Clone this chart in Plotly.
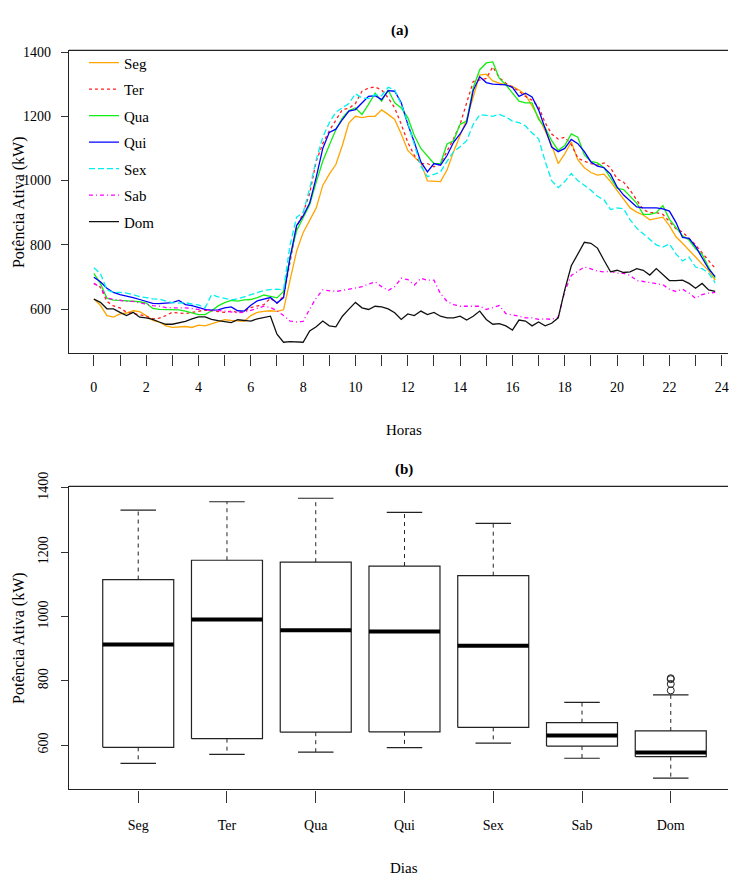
import plotly.graph_objects as go

# ---------------- data: panel (a) ----------------
hours = [i / 4 for i in range(96)]  # 15-minute grid, 0 .. 23.75 h

seg = [632, 612, 580, 575, 585, 588, 595, 592, 580, 565, 560, 548, 543, 545, 546, 543,
       550, 548, 555, 560, 567, 565, 563, 562, 580, 590, 593, 595, 593, 598, 690, 780,
       838, 878, 915, 985, 1020, 1050, 1110, 1180, 1200, 1196, 1200, 1200, 1220, 1206, 1190, 1145,
       1094, 1073, 1055, 999, 998, 997, 1033, 1090, 1140, 1190, 1260, 1328, 1331, 1310, 1303, 1298,
       1293, 1282, 1267, 1232, 1196, 1155, 1110, 1053, 1083, 1120, 1065, 1040, 1025, 1017, 1020, 997,
       970, 945, 915, 902, 893, 878, 882, 886, 860, 825, 805, 785, 762, 740, 720, 690]
ter = [680, 668, 624, 610, 604, 590, 587, 583, 578, 570, 572, 580, 590, 588, 586, 590,
       593, 597, 595, 592, 590, 594, 590, 592, 605, 610, 614, 634, 619, 640, 750, 854,
       900, 960, 1060, 1115, 1155, 1190, 1221, 1225, 1240, 1278, 1288, 1291, 1282, 1257, 1226, 1175,
       1119, 1078, 1053, 1053, 1043, 1053, 1090, 1130, 1175, 1240, 1308, 1313, 1318, 1354, 1320, 1303,
       1290, 1278, 1262, 1250, 1230, 1180, 1145, 1129, 1135, 1112, 1070, 1060, 1053, 1048, 1055, 1040,
       1005, 995, 970, 940, 910, 900, 900, 895, 874, 850, 840, 820, 800, 775, 750, 727]
qua = [711, 680, 634, 628, 627, 626, 624, 623, 619, 602, 599, 599, 600, 598, 594, 588,
       583, 583, 595, 610, 620, 627, 625, 629, 630, 636, 644, 640, 635, 655, 762, 844,
       884, 925, 995, 1060, 1110, 1158, 1195, 1218, 1226, 1206, 1237, 1272, 1247, 1282, 1242, 1226,
       1196, 1140, 1100, 1075, 1053, 1053, 1114, 1124, 1175, 1185, 1288, 1345, 1366, 1369, 1318, 1298,
       1272, 1247, 1242, 1242, 1191, 1165, 1124, 1094, 1109, 1145, 1135, 1080, 1060, 1055, 1040, 1010,
       976, 972, 950, 930, 895, 895, 900, 922, 880, 855, 828, 815, 788, 770, 730, 696]
qui = [699, 685, 665, 652, 645, 641, 636, 630, 625, 618, 617, 619, 620, 627, 614, 611,
       605, 599, 597, 598, 604, 607, 595, 594, 612, 626, 631, 636, 619, 636, 760, 860,
       890, 930, 1010, 1100, 1150, 1160, 1190, 1216, 1221, 1242, 1262, 1264, 1252, 1280, 1278, 1242,
       1175, 1119, 1058, 1027, 1053, 1048, 1078, 1119, 1145, 1180, 1280, 1323, 1305, 1300, 1300, 1298,
       1290, 1262, 1272, 1260, 1220, 1160, 1104, 1090, 1100, 1128, 1115, 1090, 1058, 1045, 1040, 1020,
       980, 955, 938, 918, 915, 915, 915, 912, 905, 870, 823, 820, 795, 760, 725, 701]
sex = [729, 711, 660, 652, 652, 650, 645, 639, 636, 632, 631, 625, 620, 619, 620, 616,
       613, 604, 645, 638, 634, 629, 632, 639, 645, 652, 658, 661, 662, 660, 800, 886,
       900, 975, 1065, 1135, 1180, 1213, 1226, 1240, 1270, 1257, 1255, 1267, 1264, 1290, 1282, 1237,
       1180, 1109, 1045, 1012, 1019, 1027, 1060, 1090, 1105, 1124, 1175, 1205, 1203, 1200, 1206, 1198,
       1185, 1180, 1170, 1148, 1130, 1060, 1000, 978, 997, 1022, 1000, 985, 970, 951, 940, 910,
       915, 912, 878, 852, 834, 815, 800, 793, 803, 772, 750, 762, 731, 726, 712, 682]
sab = [680, 668, 634, 630, 627, 624, 624, 620, 614, 611, 609, 605, 604, 605, 604, 602,
       599, 599, 595, 596, 594, 590, 589, 590, 596, 604, 609, 605, 595, 580, 563, 560,
       562, 600, 635, 660, 658, 655, 658, 662, 665, 670, 678, 685, 670, 658, 670, 696,
       692, 675, 696, 690, 690, 648, 624, 614, 609, 609, 607, 609, 599, 604, 611, 586,
       583, 578, 573, 573, 568, 570, 568, 575, 655, 705, 718, 731, 725, 718, 716, 718,
       712, 711, 705, 689, 686, 682, 678, 676, 662, 655, 662, 650, 634, 645, 650, 652]
dom = [631, 621, 601, 601, 590, 580, 590, 575, 573, 568, 560, 553, 553, 558, 562, 570,
       576, 576, 568, 564, 560, 558, 567, 566, 563, 570, 575, 578, 522, 497, 499, 497,
       497, 532, 545, 563, 548, 545, 578, 600, 621, 604, 599, 609, 607, 601, 589, 568,
       585, 580, 594, 583, 590, 578, 573, 573, 578, 566, 578, 594, 568, 553, 555, 548,
       535, 566, 563, 548, 560, 548, 556, 573, 660, 735, 770, 808, 805, 790, 752, 716,
       721, 714, 716, 726, 721, 706, 726, 706, 689, 689, 690, 680, 665, 680, 660, 655]

hour_ticks = [0, 1, 2, 3, 4, 5, 6, 7, 8, 9, 10, 11, 12, 13, 14, 15, 16, 17, 18, 19, 20, 21, 22, 23, 24]
hour_labels = ["0", "", "2", "", "4", "", "6", "", "8", "", "10", "", "12", "", "14", "", "16", "",
               "18", "", "20", "", "22", "", "24"]
power_ticks = [600, 800, 1000, 1200, 1400]

# ---------------- data: panel (b) ----------------
days = ["Seg", "Ter", "Qua", "Qui", "Sex", "Sab", "Dom"]
box_lower = [543, 571, 578, 592, 606, 559, 497]
box_q1 = [593, 620, 640, 641, 655, 597, 564]
box_median = [913, 991, 957, 953, 909, 630, 577]
box_q3 = [1115, 1175, 1169, 1157, 1127, 670, 644]
box_upper = [1331, 1357, 1368, 1324, 1290, 733, 756]
dom_outliers = [770, 790, 805, 808]

# ---------------- figure ----------------
FONT = "Liberation Serif"
H = 877
fig = go.Figure()

series = [
    ("Seg", seg, "#FFA500", "solid"),
    ("Ter", ter, "#FF2020", "3px,3px"),
    ("Qua", qua, "#14EE14", "solid"),
    ("Qui", qui, "#0000FF", "solid"),
    ("Sex", sex, "#00F0F0", "6px,3px"),
    ("Sab", sab, "#FF00FF", "4px,3px,1px,3px"),
    ("Dom", dom, "#111111", "solid"),
]
for name, vals, col, dash in series:
    fig.add_trace(go.Scatter(
        x=hours, y=vals, mode="lines", name=name, legendgroup=name,
        line=dict(color=col, width=1.3, dash=dash),
        xaxis="x", yaxis="y"))

# box plot (R style) built from the statistics
pos = list(range(1, len(days) + 1))
hw, sw = 0.4, 0.2
bx, by, mx, my, wx, wy, sx, sy = [], [], [], [], [], [], [], []
for p, lo, q1, md, q3, hi in zip(pos, box_lower, box_q1, box_median, box_q3, box_upper):
    bx += [p - hw, p + hw, p + hw, p - hw, p - hw, None]
    by += [q1, q1, q3, q3, q1, None]
    mx += [p - hw, p + hw, None]
    my += [md, md, None]
    wx += [p, p, None, p, p, None]
    wy += [q3, hi, None, q1, lo, None]
    sx += [p - sw, p + sw, None, p - sw, p + sw, None]
    sy += [hi, hi, None, lo, lo, None]

fig.add_trace(go.Scatter(x=wx, y=wy, mode="lines", showlegend=False,
                         line=dict(color="#222", width=1, dash="4px,4px"),
                         xaxis="x2", yaxis="y2"))
fig.add_trace(go.Scatter(x=sx, y=sy, mode="lines", showlegend=False,
                         line=dict(color="#222", width=1.2), xaxis="x2", yaxis="y2"))
fig.add_trace(go.Scatter(x=bx, y=by, mode="lines", showlegend=False,
                         line=dict(color="#222", width=1.2), xaxis="x2", yaxis="y2"))
fig.add_trace(go.Scatter(x=mx, y=my, mode="lines", showlegend=False,
                         line=dict(color="#000", width=4), xaxis="x2", yaxis="y2"))
fig.add_trace(go.Scatter(x=[pos[-1]] * len(dom_outliers), y=dom_outliers, mode="markers",
                         showlegend=False,
                         marker=dict(symbol="circle-open", size=7, color="#222",
                                     line=dict(width=1)),
                         xaxis="x2", yaxis="y2"))

axis_common = dict(showgrid=False, zeroline=False, showline=True, linecolor="#222",
                   linewidth=1.3, ticks="outside", tickcolor="#333", tickwidth=1,
                   ticklabeloverflow="allow",
                   tickfont=dict(family=FONT, size=14, color="#000"))

top_dom = [1 - 345 / H, 1 - 37 / H]
bot_dom = [1 - 788 / H, 1 - 480 / H]

fig.update_layout(
    width=729, height=877,
    margin=dict(l=69, r=0, t=0, b=0),
    paper_bgcolor="white", plot_bgcolor="white",
    font=dict(family=FONT, size=14, color="#000"),
    xaxis=dict(domain=[0, 1], anchor="y", range=[-0.95, 24.24],
               tickmode="array", tickvals=hour_ticks, ticktext=hour_labels,
               ticklen=11, ticklabelstandoff=10, **axis_common),
    yaxis=dict(domain=top_dom, anchor="x", range=[462, 1405],
               tickmode="array", tickvals=power_ticks, ticklen=7,
               ticklabelstandoff=7, **axis_common),
    xaxis2=dict(domain=[0, 1], anchor="y2", range=[0.22, 7.645],
                tickmode="array", tickvals=pos, ticktext=days,
                ticklen=12, ticklabelstandoff=11, **axis_common),
    yaxis2=dict(domain=bot_dom, anchor="x2", range=[462, 1405],
                tickmode="array", tickvals=power_ticks, ticklen=7, tickangle=-90,
                ticklabelstandoff=7, **axis_common),
    legend=dict(x=(84 - 69) / 660, y=1 - 33 / H, xanchor="left", yanchor="top",
                font=dict(family=FONT, size=15, color="#000"),
                bgcolor="rgba(0,0,0,0)", tracegroupgap=4),
    showlegend=True,
    shapes=[
        dict(type="line", xref="x domain", yref="y domain", x0=0, x1=1, y0=1, y1=1,
             line=dict(color="#222", width=1.3)),
        dict(type="line", xref="x2 domain", yref="y2 domain", x0=0, x1=1, y0=1, y1=1,
             line=dict(color="#222", width=1.3)),
    ],
)

def px_x(p):
    return (p - 69) / 660

def px_y(p):
    return 1 - p / H

ann = [
    dict(text="<b>(a)</b>", x=px_x(401), y=px_y(17), size=15),
    dict(text="<b>(b)</b>", x=px_x(405), y=px_y(463), size=15),
    dict(text="Horas", x=px_x(405), y=px_y(423), size=15),
    dict(text="Dias", x=px_x(405), y=px_y(868), size=15),
]
for a in ann:
    fig.add_annotation(text=a["text"], x=a["x"], y=a["y"], xref="paper", yref="paper",
                       xanchor="center", yanchor="middle", showarrow=False,
                       font=dict(family=FONT, size=a["size"], color="#000"))
for yc in (191, 634):
    fig.add_annotation(text="Potência Ativa (kW)", x=px_x(19), y=px_y(yc),
                       xref="paper", yref="paper", xanchor="center", yanchor="middle",
                       showarrow=False, textangle=-90,
                       font=dict(family=FONT, size=16, color="#000"))

fig.write_html("out.html")
